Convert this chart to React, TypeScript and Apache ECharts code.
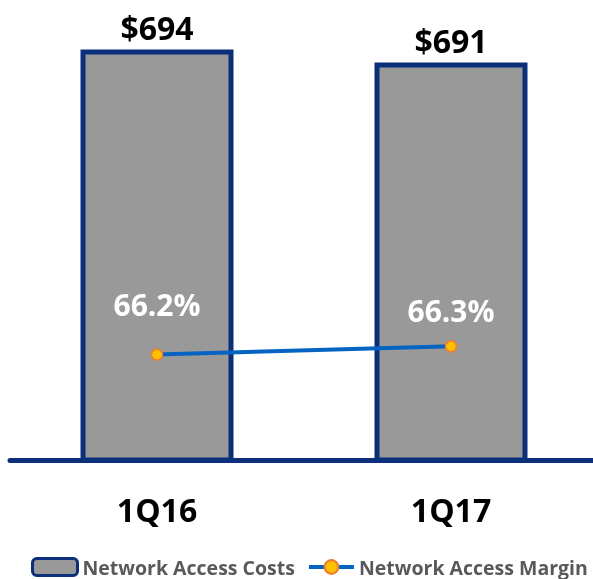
import React, { useEffect, useRef } from "react";
import * as echarts from "echarts";

const categories = ["1Q16", "1Q17"];
const costValues = [694, 691];
const marginValues = [66.2, 66.3];
const costName = "Network Access Costs";
const marginName = "Network Access Margin";

// label distances above each margin point (style, not data)
const marginLabelDistance = [29, 15];

const NAVY = "#0b2f7a";
const FONT = "'Open Sans', 'Noto Sans', sans-serif";

export default function App() {
  const ref = useRef<HTMLDivElement>(null);
  useEffect(() => {
    if (!ref.current) return;
    const chart = echarts.init(ref.current, undefined, { renderer: "svg" });
    chart.setOption({
      animation: false,
      grid: {
        left: 10,
        width: 588,
        top: 23.3,
        bottom: 119,
        containLabel: false,
        outerBoundsMode: "none",
      },
      legend: {
        left: 31,
        top: 557,
        padding: 0,
        itemWidth: 45,
        itemHeight: 17,
        itemGap: 12,
        textStyle: {
          fontFamily: FONT,
          fontWeight: "bold",
          fontSize: 19.5,
          lineHeight: 17,
          color: "#595959",
        },
        data: [
          { name: costName, itemStyle: { borderWidth: 3 } },
          { name: marginName, lineStyle: { width: 4 } },
        ],
      },
      xAxis: {
        type: "category",
        data: categories,
        axisLine: { lineStyle: { color: NAVY, width: 5 } },
        axisTick: { show: false },
        axisLabel: {
          margin: 33,
          fontFamily: FONT,
          fontWeight: "bold",
          fontSize: 32,
          color: "#000",
        },
      },
      yAxis: [
        { type: "value", min: 600, max: 700, show: false, splitLine: { show: false } },
        { type: "value", min: 64.93, max: 70.19, show: false, splitLine: { show: false } },
      ],
      series: [
        {
          name: costName,
          type: "bar",
          data: costValues,
          barWidth: 153,
          itemStyle: { color: "#999999", borderColor: NAVY, borderWidth: 5 },
          label: {
            show: true,
            position: "top",
            distance: 6,
            formatter: (p: any) => "$" + p.value,
            fontFamily: FONT,
            fontWeight: "bold",
            fontSize: 32,
            color: "#000",
          },
        },
        {
          name: marginName,
          type: "line",
          yAxisIndex: 1,
          data: marginValues.map((v, i) => ({
            value: v,
            label: { distance: marginLabelDistance[i] },
          })),
          symbol: "circle",
          symbolSize: 11,
          lineStyle: { color: "#0563c1", width: 4 },
          itemStyle: { color: "#ffc000", borderColor: "#ed7d31", borderWidth: 1.5 },
          label: {
            show: true,
            position: "top",
            formatter: (p: any) => p.value.toFixed(1) + "%",
            fontFamily: FONT,
            fontWeight: "bold",
            fontSize: 30,
            color: "#fff",
          },
        },
      ],
    });
    return () => chart.dispose();
  }, []);
  return (
    <div
      ref={ref}
      style={{ position: "fixed", left: 0, top: 0, width: 593, height: 579 }}
    />
  );
}
